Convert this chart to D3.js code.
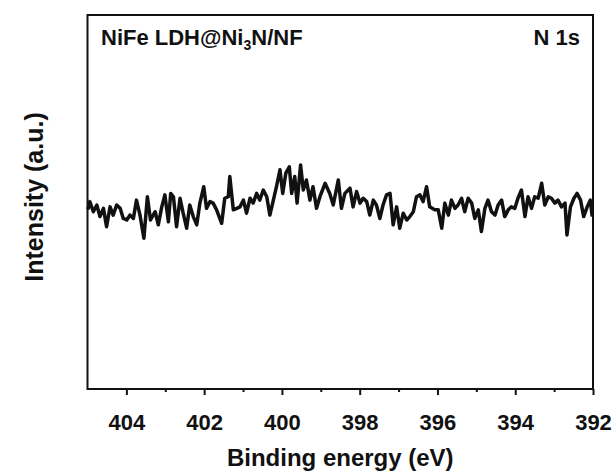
<!doctype html>
<html lang="en">
<head>
  <meta charset="utf-8">
  <title>N 1s</title>
  <style>
  body { margin: 0; background: #fff; }
  text { font-family: "Liberation Sans", Arial, sans-serif; font-weight: bold; fill: #111; }
  .frame { fill: none; stroke: #111; stroke-width: 2; }
  .spectrum { fill: none; stroke: #111; stroke-width: 3.5; stroke-linejoin: round; }
  </style>
</head>
<body>
  <div id="chart"></div>
  <script src="https://cdn.jsdelivr.net/npm/d3@7"></script>
  <script>
// binding energy (eV) and intensity (a.u.)
var energy = [
  404.99, 404.94, 404.85, 404.76, 404.68, 404.59, 404.51, 404.42, 404.34, 404.25,
  404.16, 404.08, 403.99, 403.91, 403.82, 403.74, 403.65, 403.55, 403.46, 403.38,
  403.26, 403.18, 403.09, 403.01, 402.92, 402.86, 402.79, 402.71, 402.62, 402.54,
  402.45, 402.37, 402.28, 402.19, 402.11, 402.01, 401.94, 401.85, 401.77, 401.68,
  401.55, 401.47, 401.38, 401.34, 401.25, 401.16, 401.08, 400.99, 400.91, 400.82,
  400.74, 400.65, 400.57, 400.48, 400.39, 400.31, 400.22, 400.14, 400.05, 399.98,
  399.90, 399.81, 399.75, 399.67, 399.61, 399.52, 399.45, 399.37, 399.28, 399.20,
  399.11, 399.02, 398.89, 398.77, 398.68, 398.55, 398.47, 398.38, 398.25, 398.17,
  398.08, 397.99, 397.91, 397.82, 397.74, 397.65, 397.57, 397.48, 397.40, 397.31,
  397.22, 397.14, 397.05, 396.97, 396.88, 396.79, 396.71, 396.62, 396.54, 396.45,
  396.37, 396.28, 396.20, 396.07, 395.98, 395.89, 395.81, 395.72, 395.64, 395.55,
  395.47, 395.38, 395.30, 395.21, 395.12, 395.04, 394.95, 394.87, 394.78, 394.70,
  394.61, 394.52, 394.44, 394.35, 394.27, 394.18, 394.10, 394.01, 393.93, 393.84,
  393.75, 393.67, 393.58, 393.50, 393.41, 393.32, 393.24, 393.15, 393.07, 392.98,
  392.90, 392.81, 392.72, 392.67, 392.58, 392.49, 392.41, 392.32, 392.24, 392.15,
  392.07, 392.02
];
var intensity = [
  48.0, 50.1, 47.4, 49.2, 46.1, 48.3, 43.4, 48.7, 46.5, 49.2,
  48.3, 45.6, 45.2, 46.5, 45.6, 50.5, 46.5, 40.3, 51.4, 45.2,
  47.4, 43.9, 48.7, 51.9, 44.7, 52.3, 51.4, 43.4, 51.0, 47.0,
  43.0, 49.2, 46.1, 43.9, 49.7, 54.1, 48.3, 50.1, 49.7, 47.9,
  44.3, 51.0, 51.4, 56.8, 47.9, 48.3, 48.7, 50.5, 47.0, 51.0,
  49.7, 52.3, 50.5, 53.2, 51.4, 46.5, 50.5, 54.1, 58.6, 52.3,
  57.7, 59.4, 52.3, 56.8, 49.7, 59.9, 53.2, 55.9, 50.5, 54.1,
  48.3, 51.5, 55.0, 52.3, 49.2, 55.9, 48.3, 52.3, 53.7, 48.7,
  52.8, 49.7, 51.0, 50.1, 46.5, 50.5, 49.2, 45.6, 49.2, 51.9,
  52.3, 43.9, 48.7, 43.0, 47.0, 45.2, 46.1, 47.4, 51.4, 51.9,
  50.1, 54.1, 48.7, 47.9, 47.9, 43.0, 49.7, 46.5, 50.5, 48.3,
  49.2, 51.0, 47.4, 51.0, 49.7, 45.6, 47.9, 42.1, 48.3, 50.5,
  47.4, 46.5, 49.2, 50.5, 46.1, 47.9, 48.7, 48.3, 51.0, 53.2,
  46.1, 51.4, 48.3, 51.4, 51.0, 55.0, 49.2, 51.4, 51.0, 49.7,
  50.5, 48.7, 49.7, 41.2, 48.7, 51.0, 52.3, 50.5, 46.1, 48.7,
  50.5, 46.1
];
var xTicks = [404, 403, 402, 401, 400, 399, 398, 397, 396, 395, 394, 393, 392];
var xTitle = "Binding energy (eV)";
var yTitle = "Intensity (a.u.)";

(function() {
  var width = 615, height = 475;
  var margin = {top: 15, right: 22, bottom: 86, left: 87.5};
  var w = width - margin.left - margin.right;
  var h = height - margin.top - margin.bottom;

  var svg = d3.select("#chart").append("svg")
      .attr("width", width)
      .attr("height", height);

  var g = svg.append("g")
      .attr("transform", "translate(" + margin.left + "," + margin.top + ")");

  var x = d3.scaleLinear().domain([405, 392]).range([0, w]);
  var y = d3.scaleLinear().domain([0, 100]).range([h, 0]);

  var line = d3.line()
      .x(function(d, i) { return x(energy[i]); })
      .y(function(d) { return y(d); });

  g.append("path")
      .datum(intensity)
      .attr("class", "spectrum")
      .attr("d", line);

  // bottom axis: labelled majors every 2 eV, short minors between
  var xAxis = d3.axisBottom(x)
      .tickValues(xTicks)
      .tickSize(6)
      .tickFormat(function(d) { return d % 2 === 0 ? d : ""; });

  var ax = g.append("g")
      .attr("transform", "translate(0," + h + ")")
      .call(xAxis);
  ax.select(".domain").remove();
  ax.selectAll(".tick line")
      .attr("stroke", "#111")
      .attr("stroke-width", 2)
      .attr("y2", function(d) { return d % 2 === 0 ? 6 : 3; });
  ax.selectAll(".tick text")
      .attr("y", 41)
      .attr("dy", 0)
      .style("font-size", "22px");

  g.append("rect")
      .attr("class", "frame")
      .attr("width", w)
      .attr("height", h);

  svg.append("text")
      .attr("x", margin.left + w / 2)
      .attr("y", 466)
      .attr("text-anchor", "middle")
      .style("font-size", "24px")
      .text(xTitle);

  svg.append("text")
      .attr("transform", "translate(43," + 197 + ") rotate(-90)")
      .attr("text-anchor", "middle")
      .style("font-size", "25px")
      .text(yTitle);

  var label = svg.append("text")
      .attr("x", 101)
      .attr("y", 45)
      .style("font-size", "22px");
  label.append("tspan").text("NiFe LDH@Ni");
  label.append("tspan").attr("dy", 5).style("font-size", "14px").text("3");
  label.append("tspan").attr("dy", -5).text("N/NF");

  svg.append("text")
      .attr("x", 580)
      .attr("y", 45)
      .attr("text-anchor", "end")
      .style("font-size", "22px")
      .text("N 1s");
})();
  </script>
</body>
</html>
